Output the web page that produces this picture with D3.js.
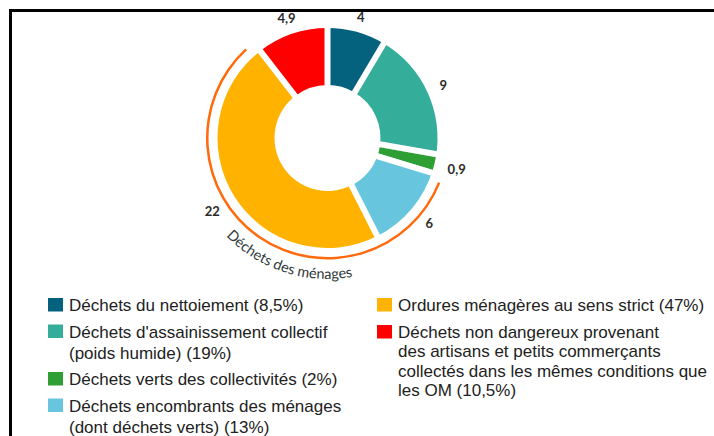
<!DOCTYPE html>
<html>
<head>
<meta charset="utf-8">
<script src="https://cdn.jsdelivr.net/npm/d3@7"></script>
<style>
  body { margin: 0; background: #fff; }
  svg { display: block; }
</style>
</head>
<body>
<svg id="chart" width="714" height="436"></svg>
<script>
// tonnages (Mt) per category, clockwise from the top
var categories = ["nettoiement", "assainissement", "verts", "encombrants", "ordures", "artisans"];
var values = [4, 9, 0.9, 6, 22, 4.9];
var valueLabels = ["4", "9", "0,9", "6", "22", "4,9"];
var colors = ["#04627f", "#34ad9b", "#2e9f33", "#67c6dd", "#ffb300", "#ff0000"];
var legendLines = [
    ["Déchets du nettoiement (8,5%)"],
    ["Déchets d'assainissement collectif", "(poids humide) (19%)"],
    ["Déchets verts des collectivités (2%)"],
    ["Déchets encombrants des ménages", "(dont déchets verts) (13%)"],
    ["Ordures ménagères au sens strict (47%)"],
    ["Déchets non dangereux provenant", "des artisans et petits commerçants",
     "collectés dans les mêmes conditions que", "les OM (10,5%)"]
];
var legendColumn = [0, 0, 0, 0, 1, 1];
var household = ["encombrants", "ordures"];
var householdLabel = "Déchets des ménages";

var svg = d3.select("#chart");
var cx = 327.5, cy = 138, r0 = 53, r1 = 110, gap = 6;

// frame
svg.append("rect")
    .attr("x", 10.5).attr("y", 10.5)
    .attr("width", 720).attr("height", 440)
    .attr("fill", "none").attr("stroke", "#000").attr("stroke-width", 3);

var pie = d3.pie().sort(null).value(function (d) { return d; });
var slices = pie(values);
slices.forEach(function (d, i) { d.name = categories[i]; });

var arc = d3.arc().innerRadius(r0).outerRadius(r1);
var g = svg.append("g").attr("transform", "translate(" + cx + "," + cy + ")");

g.selectAll("path.slice")
    .data(slices)
    .enter().append("path")
    .attr("class", "slice")
    .attr("d", arc)
    .attr("fill", function (d, i) { return colors[i]; });

// white gaps between slices; a thin slice keeps its full width
var isThin = function (d) { return (d.endAngle - d.startAngle) * r0 < 2 * gap; };
slices.forEach(function (d, i) {
    var prev = slices[(i + slices.length - 1) % slices.length];
    var a = d.startAngle;
    var shift = 0;
    if (isThin(d)) shift = -gap / 2;
    else if (isThin(prev)) shift = gap / 2;
    var ux = Math.sin(a), uy = -Math.cos(a);
    var nx = Math.cos(a), ny = Math.sin(a);
    g.append("line")
        .attr("x1", ux * (r0 - 2) + nx * shift).attr("y1", uy * (r0 - 2) + ny * shift)
        .attr("x2", ux * (r1 + 2) + nx * shift).attr("y2", uy * (r1 + 2) + ny * shift)
        .attr("stroke", "#fff").attr("stroke-width", gap);
});

// value labels
slices.forEach(function (d, i) {
    var a = (d.startAngle + d.endAngle) / 2;
    var t = g.append("text")
        .attr("text-anchor", "middle")
        .attr("dy", "0.36em")
        .style("font-family", "Lato, 'Open Sans', sans-serif")
        .style("font-size", "13px")
        .style("font-weight", "bold")
        .attr("fill", "#2a2a2a")
        .text(valueLabels[i]);
    var w = t.node().getComputedTextLength();
    var L = 124 + Math.abs(Math.sin(a)) * w / 2 + (household.indexOf(d.name) >= 0 ? 6 : 0);
    t.attr("x", Math.sin(a) * L).attr("y", -Math.cos(a) * L);
});

// household bracket
var hh = slices.filter(function (d) { return household.indexOf(d.name) >= 0; });
var hStart = d3.min(hh, function (d) { return d.startAngle; });
var hEnd = d3.max(hh, function (d) { return d.endAngle; });
var hPad = 0.085;
g.append("path")
    .attr("d", d3.arc().innerRadius(119).outerRadius(121.5)
        .startAngle(hStart + hPad).endAngle(hEnd - hPad)())
    .attr("fill", "#ff6a0d");

var tr = 141;
var a1 = 226 * Math.PI / 180, a2 = 150 * Math.PI / 180;
g.append("path")
    .attr("id", "hhpath")
    .attr("fill", "none")
    .attr("d", "M" + (Math.sin(a1) * tr) + "," + (-Math.cos(a1) * tr) +
        "A" + tr + "," + tr + " 0 0 0 " + (Math.sin(a2) * tr) + "," + (-Math.cos(a2) * tr));
g.append("text")
    .style("font-family", "Lato, 'Open Sans', sans-serif")
    .style("font-size", "14.5px")
    .attr("fill", "#2f3a3a")
    .append("textPath")
    .attr("href", "#hhpath")
    .text(householdLabel);

// legend
var colX = [48, 377], textDx = 21;
var lineH = [21, 19.3];
var nextY = [311, 311];
var itemGap = [26.5, 27];
legendLines.forEach(function (lines, i) {
    var c = legendColumn[i];
    var y = nextY[c];
    svg.append("rect")
        .attr("x", colX[c]).attr("y", y - 13)
        .attr("width", 15).attr("height", 13.5)
        .attr("fill", colors[i]);
    var t = svg.append("text")
        .style("font-family", "'Liberation Sans', Arial, sans-serif")
        .style("font-size", "17px")
        .attr("fill", "#222");
    lines.forEach(function (s, j) {
        t.append("tspan")
            .attr("x", colX[c] + textDx)
            .attr("y", y + j * lineH[c])
            .text(s);
    });
    nextY[c] = y + (lines.length - 1) * lineH[c] + itemGap[c];
});
</script>
</body>
</html>
